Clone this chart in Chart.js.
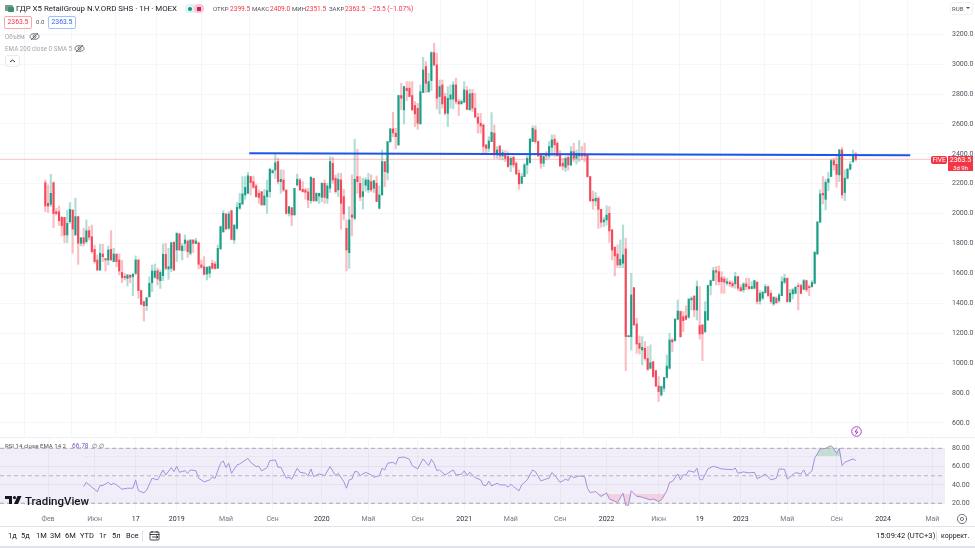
<!DOCTYPE html>
<html>
<head>
<meta charset="utf-8">
<title>FIVE</title>
<script src="https://cdn.jsdelivr.net/npm/chart.js@4"></script>
<style>
html, body { margin: 0; padding: 0; background: #fff; }
body { width: 975px; height: 548px; position: relative; overflow: hidden; font-family: Roboto, sans-serif; color: #131722; }
canvas { position: absolute; left: 0; }
.t { position: absolute; white-space: nowrap; line-height: 10px; font-size: 6.6px; }
.g { color: #a3a6af; font-size: 6.3px; }
.r { color: #f23645; }
.s { color: #50535e; font-size: 6.1px; }
.box { position: absolute; box-sizing: border-box; border-radius: 2px; text-align: center; }
.line { position: absolute; background: #e0e3eb; }
svg { position: absolute; }
</style>
</head>
<body>
<canvas id="mainChart" width="975" height="437" style="top:0"></canvas>
<canvas id="rsiChart" width="975" height="89" style="top:437px"></canvas>

<div class="line" style="left:0;top:437px;width:975px;height:1px;background:#eef0f3"></div>
<div class="line" style="left:0;top:526px;width:975px;height:1px"></div>
<div class="line" style="left:0;top:546px;width:975px;height:2px"></div>

<!-- legend -->
<svg style="left:5px;top:4px" width="9" height="9"><rect x="0" y="1" width="8" height="6" rx="1" fill="#7a9a8c"/><rect x="3" y="3" width="6" height="5" rx="1" fill="#3d8f6b"/></svg>
<div class="t" style="left:16px;top:4px;font-size:7.9px">ГДР X5 RetailGroup N.V.ORD SHS · 1H · MOEX</div>
<div class="box" style="left:185px;top:4px;width:10px;height:9px;border-radius:4px 0 0 4px;background:#e3f3f0"></div>
<div class="box" style="left:194px;top:4px;width:10px;height:9px;border-radius:4px;background:#f8c9d2"></div>
<svg style="left:187px;top:6px" width="16" height="6"><circle cx="3" cy="3" r="2" fill="#089981"/><rect x="10" y="1" width="4" height="4" fill="#d81b60"/></svg>
<div class="t s" style="left:213px;top:4px">ОТКР</div><div class="t r" style="left:230px;top:4px">2399.5</div>
<div class="t s" style="left:252px;top:4px">МАКС</div><div class="t r" style="left:270px;top:4px">2409.0</div>
<div class="t s" style="left:292px;top:4px">МИН</div><div class="t r" style="left:306px;top:4px">2351.5</div>
<div class="t s" style="left:329px;top:4px">ЗАКР</div><div class="t r" style="left:345px;top:4px">2363.5</div>
<div class="t r" style="left:369px;top:4px">−25.5 (−1.07%)</div>

<div class="box r" style="left:4px;top:16px;width:28px;height:13px;border:1px solid #f7a6ad;font-size:6.8px;line-height:11px">2363.5</div>
<div class="t s" style="left:36px;top:17px">0.0</div>
<div class="box" style="left:48px;top:16px;width:28px;height:13px;border:1px solid #a3bffa;font-size:6.8px;line-height:11px;color:#2962ff">2363.5</div>

<div class="t g" style="left:5px;top:32px">Объём</div>
<svg style="left:29px;top:32px" width="11" height="9" fill="none" stroke="#50535e" stroke-width="0.8"><ellipse cx="5.5" cy="4.5" rx="4.5" ry="2.8"/><circle cx="5.5" cy="4.5" r="1.5"/><path d="M2 8L9 1"/></svg>
<div class="t g" style="left:5px;top:44px">EMA 200 close 0 SMA 5</div>
<svg style="left:74px;top:44px" width="11" height="9" fill="none" stroke="#50535e" stroke-width="0.8"><ellipse cx="5.5" cy="4.5" rx="4.5" ry="2.8"/><circle cx="5.5" cy="4.5" r="1.5"/><path d="M2 8L9 1"/></svg>
<div class="box" style="left:5px;top:55px;width:15px;height:12px;border:1px solid #e8eaef;border-radius:3px"></div>
<svg style="left:9px;top:59px" width="7" height="4" fill="none" stroke="#131722" stroke-width="0.9"><path d="M1 3L3.5 1L6 3"/></svg>

<!-- currency and price tag -->
<div class="box" style="left:950px;top:2px;width:23px;height:13px;border:1px solid #eef0f3;border-radius:3px"></div>
<div class="t s" style="left:952px;top:4px">RUB</div>
<svg style="left:966px;top:7px" width="5" height="3"><path d="M0 0H4L2 2Z" fill="#50535e"/></svg>
<div class="box" style="left:931px;top:156px;width:16px;height:8px;background:#f23645;color:#fff;font-size:6.5px;line-height:8px">FIVE</div>
<div class="box" style="left:948px;top:156px;width:25px;height:15px;background:#f23645;color:#fff;font-size:7px;line-height:8px;border-radius:0">2363.5<br><span style="font-size:6px;line-height:7px">3d 9h</span></div>

<!-- RSI pane -->
<div class="t s" style="left:5px;top:441px">RSI 14 close EMA 14 2</div>
<div class="t" style="left:72px;top:441px;color:#7e57c2">66.78</div>
<div class="t s" style="left:92px;top:441px">∅ ∅</div>
<svg style="left:851px;top:426px" width="11" height="11" fill="none" stroke="#ab47bc"><circle cx="5.5" cy="5.5" r="4.8"/><path d="M6.5 2.5L4 6H7L4.5 8.5" stroke="#9c27b0" stroke-width="0.9"/></svg>

<!-- logo -->
<svg style="left:5px;top:496px" width="18" height="10" fill="#131722"><path d="M0 0H7V8H4V3H0Z"/><circle cx="9.5" cy="1.6" r="1.6"/><path d="M12.5 0H16.5L13 8H9Z"/></svg>
<div class="t" style="left:25px;top:495px;font-size:11.5px;line-height:13px;font-weight:500;color:#131722">TradingView</div>

<!-- bottom bar -->
<div id="ranges"></div>
<div class="line" style="left:142px;top:531px;width:1px;height:11px"></div>
<svg style="left:149px;top:530px" width="12" height="12" fill="none" stroke="#131722" stroke-width="0.8"><rect x="1" y="2" width="9" height="8" rx="1"/><path d="M1 4.5H10M3 1V3M8 1V3M3 7H9M7 5.5L9 7L7 8.5"/></svg>
<svg style="left:956px;top:513px" width="12" height="12" fill="none" stroke="#50535e" stroke-width="0.8"><circle cx="6" cy="6" r="4.6"/><circle cx="6" cy="6" r="1.6"/></svg>
<div class="t" style="left:876px;top:531px;font-size:7.6px">15:09:42 (UTC+3)</div>
<div class="line" style="left:936px;top:531px;width:1px;height:11px"></div>
<div class="t" style="left:941px;top:531px;font-size:7px">коррект.</div>

<script>
// weekly candles, index 0 = Feb 2018
const opens = [2207,2069,2062,2207,2013,2013,1975,1975,1857,1946,2024,1857,1980,1802,1839,1813,1886,1846,1761,1690,
  1623,1730,1699,1690,1761,1679,1730,1690,1607,1581,1567,1587,1578,1601,1690,1485,1411,1384,1445,1538,
  1574,1619,1552,1585,1728,1630,1634,1808,1757,1864,1752,1801,1817,1735,1824,1801,1806,1657,1645,1596,
  1601,1668,1663,1634,1764,1880,1998,1902,2020,1824,1902,2036,2065,2125,2136,2248,2214,2185,2136,2147,
  2058,2114,2147,2274,2292,2348,2214,2225,2158,2002,2040,1991,2192,2225,2163,2158,2145,2087,2236,2087,
  2118,2109,2203,2103,2170,2337,2237,2159,2225,2114,1902,1739,1991,1969,2248,2203,2115,2190,2159,2214,
  2170,2203,2036,2125,2348,2275,2482,2567,2538,2460,2790,2694,2839,2839,2790,2723,2705,2600,2810,2984,
  2816,2890,3077,2995,2783,2861,2783,2671,2765,2765,2861,2750,2734,2745,2823,2694,2805,2705,2645,2605,
  2593,2460,2437,2482,2538,2393,2453,2386,2393,2382,2326,2377,2337,2270,2203,2248,2326,2341,2482,2560,
  2482,2400,2337,2404,2386,2444,2498,2471,2400,2337,2310,2377,2326,2415,2370,2386,2400,2400,2393,2248,
  2096,2085,2103,2029,1945,1958,2002,1891,1775,1730,1657,1668,1764,1177,1177,1505,1262,1133,1088,1099,
  1032,966,1010,950,847,787,832,905,966,1155,1151,1293,1345,1311,1316,1307,1423,1449,1356,1251,
  1255,1211,1289,1519,1552,1619,1612,1572,1563,1534,1541,1534,1530,1579,1505,1490,1530,1512,1499,1501,
  1541,1416,1434,1472,1512,1467,1396,1434,1418,1452,1541,1568,1412,1463,1467,1519,1519,1494,1552,1512,
  1512,1534,1730,1942,2136,2096,2210,2248,2355,2330,2259,2426,2141,2237,2297,2348,2399.5];
const highs = [2225,2192,2263,2212,2036,2051,1980,1975,2024,2074,2024,2103,1980,1839,1902,1958,1913,1924,1790,1723,
  1795,1795,1701,1784,1886,1768,1730,1730,1686,1601,1590,1594,1596,1717,1694,1489,1416,1438,1578,1657,
  1663,1634,1623,1797,1801,1768,1806,1813,1873,1868,1801,1857,1824,1824,1824,1835,1806,1690,1712,1645,
  1650,1690,1679,1790,1917,2020,1998,2013,2024,1924,2074,2136,2248,2248,2276,2248,2252,2198,2158,2147,
  2163,2225,2303,2295,2395,2370,2292,2292,2158,2047,2040,2169,2265,2236,2214,2169,2169,2248,2236,2140,
  2136,2207,2225,2203,2381,2377,2259,2270,2270,2163,1958,2047,2259,2498,2431,2248,2237,2240,2270,2259,
  2221,2252,2185,2426,2348,2482,2571,2678,2571,2790,2872,2850,2883,2883,2883,2750,2738,2861,3046,3017,
  2939,3084,3140,3073,2894,2894,2805,2850,2861,2883,2906,2765,2761,2883,2850,2832,2832,2805,2671,2671,
  2598,2460,2515,2676,2593,2449,2453,2426,2422,2415,2382,2386,2348,2292,2270,2337,2386,2504,2587,2587,
  2486,2404,2404,2415,2482,2527,2527,2482,2422,2370,2382,2393,2449,2471,2426,2489,2449,2471,2393,2248,
  2152,2141,2114,2029,1976,2052,2047,1895,1779,1791,1824,1924,1835,1186,1601,1505,1300,1182,1177,1144,
  1110,1122,1010,950,910,847,905,1055,1200,1166,1300,1423,1349,1345,1383,1434,1445,1449,1550,1512,
  1260,1412,1523,1556,1641,1646,1650,1612,1579,1568,1552,1550,1608,1579,1523,1539,1568,1568,1545,1556,
  1545,1485,1483,1527,1516,1485,1445,1445,1467,1579,1594,1568,1494,1501,1516,1534,1530,1561,1556,1523,
  1552,1746,1945,2159,2248,2232,2277,2364,2370,2393,2431,2444,2292,2303,2348,2426,2409];
const lows = [2013,2007,2047,1906,1991,1922,1851,1806,1806,1935,1735,1857,1661,1784,1784,1802,1824,1735,1668,1619,
  1619,1679,1616,1657,1690,1679,1645,1590,1538,1556,1516,1538,1451,1590,1434,1389,1282,1351,1440,1478,
  1567,1523,1500,1552,1623,1561,1612,1619,1679,1752,1690,1752,1708,1723,1739,1797,1630,1634,1590,1556,
  1574,1628,1628,1634,1761,1873,1895,1895,1824,1801,1895,2029,2058,2096,2136,2125,2169,2109,2069,2058,
  2058,2002,2109,2270,2236,2198,2136,2147,1995,1984,1920,1991,2185,2154,2143,2096,2040,2069,2080,2080,
  2069,2080,2069,2069,2141,2203,2136,2114,1895,1958,1617,1634,1851,1958,2136,2087,2031,2150,2141,2147,
  2141,2081,2031,2125,2181,2225,2475,2514,2433,2455,2694,2600,2756,2783,2689,2582,2564,2600,2810,2810,
  2810,2823,2988,2700,2667,2705,2660,2582,2705,2700,2734,2656,2734,2745,2694,2694,2683,2645,2538,2538,
  2404,2404,2415,2482,2370,2370,2364,2359,2348,2310,2281,2310,2259,2163,2199,2248,2266,2337,2482,2471,
  2382,2303,2315,2359,2370,2386,2382,2386,2315,2292,2281,2292,2319,2348,2332,2348,2359,2348,2243,2081,
  2029,2052,1902,1909,1913,1924,1808,1690,1583,1639,1639,1639,950,1175,1088,1255,1066,1061,988,1020,
  950,959,905,843,743,780,810,899,959,1077,1146,1289,1173,1211,1289,1300,1356,1311,1289,1161,
  1017,1204,1284,1456,1552,1523,1523,1467,1467,1523,1512,1505,1501,1485,1478,1474,1490,1494,1496,1496,
  1396,1394,1423,1467,1445,1400,1385,1396,1405,1452,1530,1407,1407,1429,1463,1356,1463,1490,1478,1452,
  1507,1530,1726,1942,2065,2025,2154,2248,2292,2176,2214,2103,2087,2230,2292,2341,2351.5];
const closes = [2051,2051,2136,2000,2000,1953,1920,1857,1935,2029,1897,1980,1802,1839,1802,1886,1842,1746,1679,1623,
  1735,1712,1690,1757,1690,1730,1679,1616,1572,1572,1590,1574,1596,1690,1485,1393,1384,1438,1534,1616,
  1616,1563,1607,1728,1634,1645,1806,1623,1868,1757,1784,1824,1746,1824,1801,1817,1661,1641,1594,1641,
  1645,1634,1634,1768,1913,2002,1897,1998,1828,1924,2042,2069,2132,2176,2254,2207,2176,2114,2109,2058,
  2118,2154,2297,2288,2341,2214,2230,2158,2002,2047,1991,2169,2230,2158,2147,2143,2091,2243,2087,2136,
  2136,2203,2109,2185,2348,2225,2147,2230,2069,1998,1757,1958,1976,2230,2214,2109,2147,2225,2225,2159,
  2221,2081,2125,2348,2281,2482,2567,2540,2515,2790,2772,2850,2823,2783,2694,2667,2605,2816,2961,2872,
  2883,3077,2995,2772,2850,2734,2671,2772,2794,2861,2750,2734,2750,2828,2698,2801,2705,2645,2605,2587,
  2449,2437,2486,2544,2393,2426,2386,2408,2370,2315,2370,2326,2266,2199,2248,2326,2370,2498,2571,2482,
  2386,2337,2382,2386,2449,2493,2460,2386,2319,2319,2370,2326,2415,2370,2404,2404,2386,2386,2248,2087,
  2085,2103,2029,1942,1958,1991,1884,1757,1717,1657,1695,1724,1177,1184,1456,1255,1128,1099,1106,1032,
  959,1003,910,847,810,843,905,981,1155,1142,1293,1349,1177,1284,1293,1427,1434,1356,1512,1195,
  1195,1345,1519,1552,1619,1608,1545,1545,1541,1545,1530,1516,1579,1501,1485,1530,1512,1499,1512,1552,
  1412,1467,1474,1512,1452,1412,1441,1405,1456,1545,1568,1412,1467,1490,1507,1512,1467,1552,1490,1505,
  1539,1742,1945,2132,2125,2210,2232,2355,2326,2263,2426,2125,2237,2297,2330,2386,2363.5];

const priceTicks = [600,800,1000,1200,1400,1600,1800,2000,2200,2400,2600,2800,3000,3200];
const tickWeeks = [1,18,33,48,66,83,101,118,136,153,170,188,205,224,239,254,271,289,306,324];
const tickLabels = ["Фев","Июн","17","2019","Май","Сен","2020","Май","Сен","2021","Май","Сен","2022","Июн","19","2023","Май","Сен","2024","Май"];

const trendWeeks = [74.5,315.9];
const trendPrices = [2404,2391];
const lastPrice = 2363.5;

const rsiWeeks = [14,15,16,19,20,21,23,24,25,26,28,30,32,33,34,36,37,39,41,43,44,46,47,48,49,51,52,53,55,56,58,60,61,62,64,65,66,67,68,70,71,74,75,77,78,79,81,82,84,85,86,88,89,90,92,93,95,96,97,98,
  100,102,104,106,107,109,110,111,112,113,114,115,117,119,120,122,123,124,125,127,128,129,131,133,134,136,138,140,141,142,143,144,146,147,149,150,152,153,154,155,157,159,160,161,162,
  163,165,166,168,169,170,171,173,174,176,178,179,181,183,184,185,186,188,189,190,191,192,193,195,197,198,199,201,203,205,206,209,211,212,213,214,216,218,221,222,224,225,227,228,229,
  231,232,233,234,235,237,238,239,240,242,244,247,251,252,253,255,257,259,260,263,265,267,268,270,271,274,276,277,278,280,281,283,285,287,288,289,290,291,292,295,296];
const rsiValues = [38.2,42.9,40,32.7,39.3,39.3,42.9,40,41.8,40,35.3,36.4,36.4,45.5,33.8,31.3,34.2,47.3,45.5,56.4,50.9,58.9,54.5,60.4,53.8,55.6,52.7,56.4,55.6,47.3,43.3,45.5,48.4,47.3,63.6,66.2,58.9,63.6,52.7,61.8,62.9,69.1,64.7,60,60.4,55.3,58.9,66.5,67.3,59.3,59.3,47.3,48.4,46.2,58.2,53.8,52.7,49.8,57.5,49.1,
  52,50.2,60,50.2,52.7,43.6,36.4,45.5,46.5,54.5,54.5,50.2,53.8,50.9,48.4,50.2,58.2,56.4,63.6,64.7,62.5,69.8,70.5,68,61.1,57.5,68.4,61.1,68,63.6,55.6,56.4,50.9,52.7,56.4,50.9,51.6,55.3,50.2,53.8,48,45.5,39.6,39.3,44,
  38.9,41.8,40,40,37.5,40.7,38.2,33.5,40,45.5,56.4,54.5,44.4,46.5,47.3,53.5,50.9,42.9,44.4,46.5,44.7,50.2,48,49.8,49.1,36.4,31.6,32.7,27.3,31.3,24.7,20.7,30.9,17.8,17.8,33.5,27.6,26.5,23.6,24.7,21.8,23.6,33.5,42.9,43.6,
  52,45.5,50.9,50.9,55.6,53.8,58.2,46.2,45.5,57.5,60.4,57.5,56.7,58.5,52.7,54.2,53.1,53.8,46.5,52,45.5,47.3,57.5,57.1,46.5,53.5,52,56.4,50.2,55.3,69.1,79.3,80,82.9,79.3,74.5,80,61.1,64.7,68.4,66.78];
const rsiTicks = [20,40,60,80];
const rsiLevels = [80,50,20];

const rangeLabels = ["1д","5д","1М","3М","6М","YTD","1г","5л","Все"];
const rangeLefts = [8,21,36,50,65,80,99,112,126];

// week range that fills the plot width
const xMin = -16.55, xMax = 328.6;

const up = "#1a9e87", down = "#f4475a";
const upWick = "rgba(8,153,129,.32)", downWick = "rgba(242,54,69,.32)";
const isUp = i => closes[i] >= opens[i];

rangeLabels.forEach((l, i) => {
    const d = document.createElement("div");
    d.className = "t";
    d.style.cssText = "left:" + rangeLefts[i] + "px;top:531px;font-size:7.5px";
    d.textContent = l;
    document.getElementById("ranges").appendChild(d);
});

// chart.js pads the plot for edge labels, this keeps the plot flush to the canvas
function noPad(s) {
    s.paddingTop = 0; s.paddingBottom = 0; s.paddingLeft = 0; s.paddingRight = 0;
}

function weekAxis(showLabels) {
    return {
        type: "linear", min: xMin, max: xMax, offset: false,
        afterBuildTicks: s => { s.ticks = tickWeeks.map(v => ({ value: v })); },
        afterFit: s => { s.height = showLabels ? 16 : 0; noPad(s); },
        grid: { color: "#f5f6f8", drawTicks: false },
        border: { display: false },
        ticks: {
            display: showLabels, autoSkip: false, maxRotation: 0, padding: 5,
            font: { family: "Roboto", size: 7 },
            color: c => /^\d/.test(c.tick.label) ? "#2a2e39" : "#787b86",
            callback: v => tickLabels[tickWeeks.indexOf(v)]
        }
    };
}

new Chart(document.getElementById("mainChart").getContext("2d"), {
    type: "bar",
    data: {
        datasets: [
            {
                order: 3, grouped: false, barThickness: 1.5, borderWidth: 0, borderSkipped: false,
                data: highs.map((h, i) => ({ x: i, y: [lows[i], h] })),
                backgroundColor: opens.map((o, i) => isUp(i) ? upWick : downWick)
            },
            {
                order: 2, grouped: false, barThickness: 1.4, borderWidth: 0, borderSkipped: false, minBarLength: 1,
                data: opens.map((o, i) => ({ x: i, y: [o, closes[i]] })),
                backgroundColor: opens.map((o, i) => isUp(i) ? up : down)
            },
            {
                type: "line", order: 1, borderColor: "rgba(242,54,69,.3)", borderWidth: 1, pointRadius: 0,
                data: [{ x: xMin, y: lastPrice }, { x: xMax, y: lastPrice }]
            },
            {
                type: "line", order: 0, borderColor: "#1d55ea", borderWidth: 2, pointRadius: 0,
                data: trendWeeks.map((w, i) => ({ x: w, y: trendPrices[i] }))
            }
        ]
    },
    options: {
        responsive: false, animation: false, events: [],
        layout: { padding: 0 },
        plugins: { legend: { display: false }, tooltip: { enabled: false } },
        scales: {
            x: weekAxis(false),
            y: {
                position: "right", min: 506, max: 3429,
                afterBuildTicks: s => { s.ticks = priceTicks.map(v => ({ value: v })); },
                afterFit: s => { s.width = 30; noPad(s); },
                grid: { color: "#f5f6f8", drawTicks: false },
                border: { display: false },
                ticks: { padding: 7, font: { family: "Roboto", size: 7 }, color: "#50535e", callback: v => v.toFixed(1) }
            }
        }
    }
});

new Chart(document.getElementById("rsiChart").getContext("2d"), {
    type: "line",
    data: {
        datasets: [
            {
                data: [{ x: xMin, y: rsiLevels[0] }, { x: xMax, y: rsiLevels[0] }],
                borderColor: "#a9abb4", borderWidth: 1, borderDash: [4, 3], pointRadius: 0,
                fill: { target: 2 }, backgroundColor: "rgba(126,87,194,.1)"
            },
            {
                data: [{ x: xMin, y: rsiLevels[1] }, { x: xMax, y: rsiLevels[1] }],
                borderColor: "#bdbfc7", borderWidth: 1, borderDash: [4, 3], pointRadius: 0
            },
            {
                data: [{ x: xMin, y: rsiLevels[2] }, { x: xMax, y: rsiLevels[2] }],
                borderColor: "#a9abb4", borderWidth: 1, borderDash: [4, 3], pointRadius: 0
            },
            {
                data: rsiWeeks.map((w, i) => ({ x: w, y: rsiValues[i] })),
                borderWidth: 0, pointRadius: 0,
                fill: { target: { value: 30 }, above: "rgba(0,0,0,0)", below: "rgba(242,54,69,.16)" }
            },
            {
                data: rsiWeeks.map((w, i) => ({ x: w, y: rsiValues[i] })),
                borderWidth: 0, pointRadius: 0,
                fill: { target: { value: 71 }, above: "rgba(60,180,90,.26)", below: "rgba(0,0,0,0)" }
            },
            {
                data: rsiWeeks.map((w, i) => ({ x: w, y: rsiValues[i] })),
                borderColor: "#ab95de", borderWidth: 1, pointRadius: 0
            }
        ]
    },
    options: {
        responsive: false, animation: false, events: [],
        layout: { padding: 0 },
        plugins: { legend: { display: false }, tooltip: { enabled: false } },
        scales: {
            x: weekAxis(true),
            y: {
                position: "right", min: 12.6, max: 92.35,
                afterBuildTicks: s => { s.ticks = rsiTicks.map(v => ({ value: v })); },
                afterFit: s => { s.width = 30; noPad(s); },
                grid: { color: "#f0f0f6", drawTicks: false },
                border: { display: false },
                ticks: { padding: 7, font: { family: "Roboto", size: 7 }, color: "#50535e", callback: v => v.toFixed(2) }
            }
        }
    }
});
</script>
</body>
</html>
